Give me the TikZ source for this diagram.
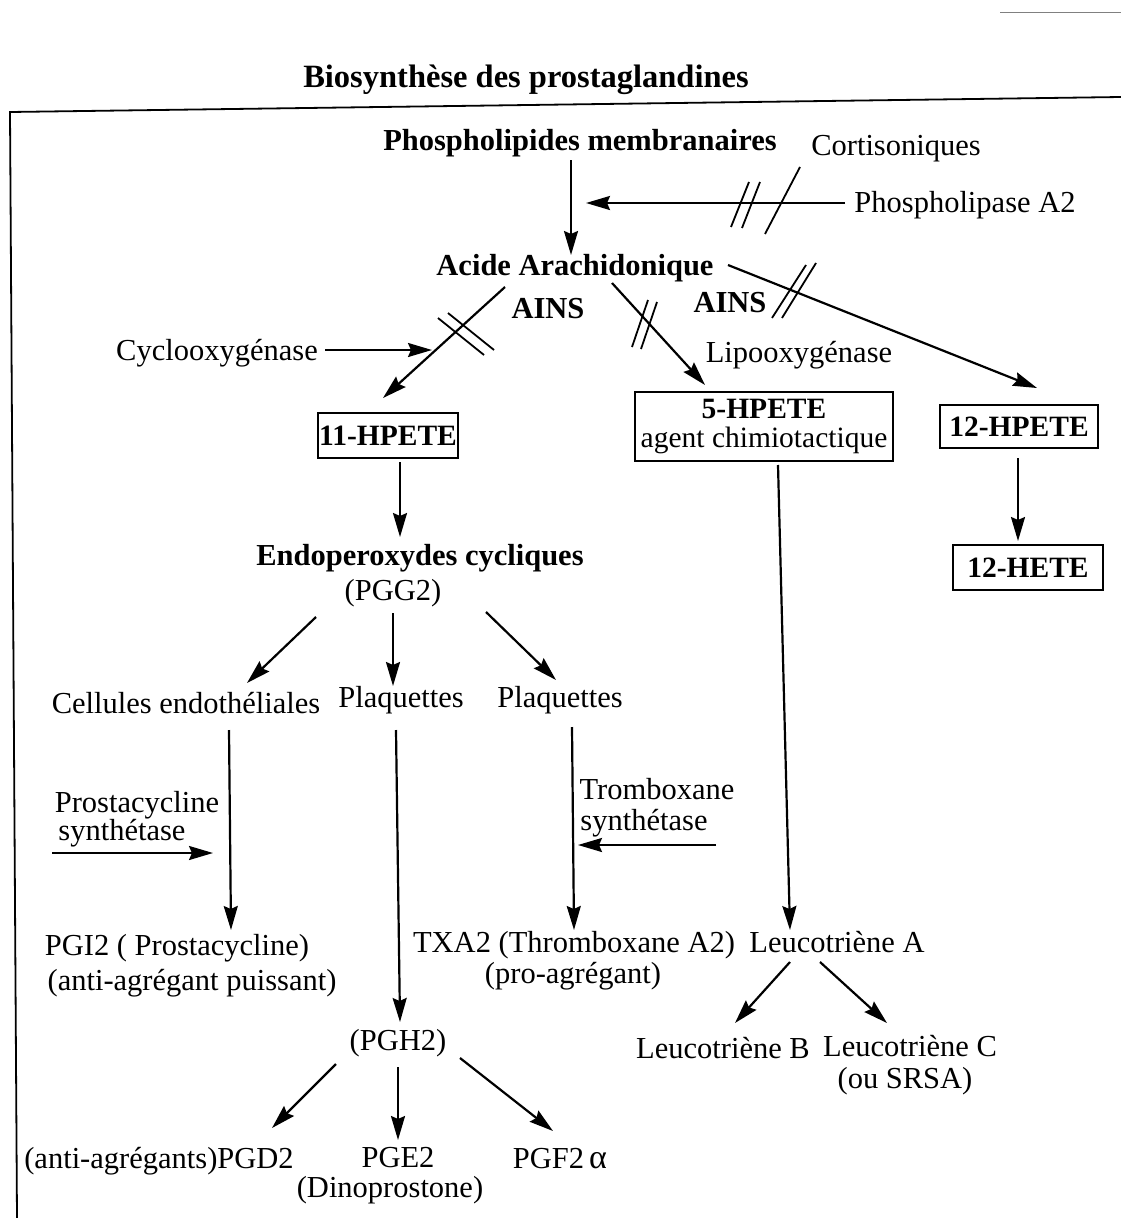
\documentclass[tikz,border=0pt]{standalone}
\usepackage{fontspec}
\setmainfont{Liberation Serif}
\usetikzlibrary{arrows.meta}
\begin{document}
\begin{tikzpicture}[x=1pt,y=-1pt,
  lbl/.style={anchor=base,inner sep=0pt,font=\fontsize{30.5}{33}\selectfont},
  blbl/.style={anchor=base,inner sep=0pt,font=\fontsize{30.5}{33}\selectfont\bfseries},
  box/.style={draw,line width=2pt,inner sep=0pt,align=center,font=\fontsize{29.5}{29.5}\selectfont},
  arr/.style={line width=2.2pt,-{Stealth[length=24pt,width=14pt,inset=3pt]}},
  bar/.style={line width=1.8pt}]
\useasboundingbox (0,0) rectangle (1121,1218);
\fill[white] (0,0) rectangle (1121,1218);
% frame
\draw[line width=1.8pt] (1121,97) -- (10,112) -- (17,1218);
\draw[line width=1pt,gray] (1000,12) -- (1121,12);
% title
\node[blbl,font=\fontsize{32.5}{35}\selectfont\bfseries] (title) at (526,87) {Biosynthèse des prostaglandines};
% top
\node[blbl] (phos) at (580,150) {Phospholipides membranaires};
\node[lbl] (cort) at (896,155) {Cortisoniques};
\node[lbl] (pla2) at (965,212) {Phospholipase A2};
\node[blbl] (acide) at (575,275) {Acide Arachidonique};
\node[blbl] (ains1) at (548,318) {AINS};
\node[blbl] (ains2) at (730,312) {AINS};
\node[lbl] (cox) at (217,360) {Cyclooxygénase};
\node[lbl] (lox) at (799,362) {Lipooxygénase};
% boxes
\node[box,minimum width=140pt,minimum height=45pt,font=\fontsize{29.5}{29.5}\selectfont\bfseries] (h11) at (388,435.5) {11-HPETE};
\node[box,minimum width=258pt,minimum height=69pt] (h5) at (764,426.5) {\textbf{5-HPETE}\\agent chimiotactique};
\node[box,minimum width=158pt,minimum height=43pt,font=\fontsize{29.5}{29.5}\selectfont\bfseries] (h12) at (1019,426.5) {12-HPETE};
\node[box,minimum width=150pt,minimum height=45pt,font=\fontsize{29.5}{29.5}\selectfont\bfseries] (hete) at (1028,567.5) {12-HETE};
% middle
\node[blbl] (endo) at (420,565) {Endoperoxydes cycliques};
\node[lbl] (pgg2) at (393,600) {(PGG2)};
\node[lbl] (cell) at (186,713) {Cellules endothéliales};
\node[lbl] (plaq1) at (401,707) {Plaquettes};
\node[lbl] (plaq2) at (560,707) {Plaquettes};
\node[lbl] (psyn1) at (137,812) {Prostacycline};
\node[lbl] (psyn2) at (122,840) {synthétase};
\node[lbl] (tsyn1) at (657,799) {Tromboxane};
\node[lbl] (tsyn2) at (644,830) {synthétase};
\node[lbl] (pgi2) at (177,955) {PGI2 ( Prostacycline)};
\node[lbl] (pgi2b) at (192,990) {(anti-agrégant puissant)};
\node[lbl] (txa2) at (574,952) {TXA2 (Thromboxane A2)};
\node[lbl] (txa2b) at (573,983) {(pro-agrégant)};
\node[lbl] (ltA) at (837,952) {Leucotriène A};
\node[lbl] (ltB) at (723,1058) {Leucotriène B};
\node[lbl] (ltC) at (910,1056) {Leucotriène C};
\node[lbl] (srsa) at (905,1088) {(ou SRSA)};
\node[lbl] (pgh2) at (398,1050) {(PGH2)};
\node[lbl] (pgd2) at (159,1168) {(anti-agrégants)PGD2};
\node[lbl] (pge2) at (398,1167) {PGE2};
\node[lbl] (dino) at (390,1197) {(Dinoprostone)};
\node[lbl] (pgf2) at (560,1168) {PGF2\,{\fontsize{34}{34}\selectfont α}};
% arrow end coordinates
\coordinate (a1s) at (571,160); \coordinate (a1e) at (571,255);
\coordinate (a2s) at (845,203); \coordinate (a2e) at (586,203);
\coordinate (a3s) at (505,287); \coordinate (a3e) at (383,398);
\coordinate (a4s) at (325,350); \coordinate (a4e) at (432,350);
\coordinate (a5s) at (612,283); \coordinate (a5e) at (705,385);
\coordinate (a6s) at (728,265); \coordinate (a6e) at (1037,388);
\coordinate (a7s) at (400,462); \coordinate (a7e) at (400,537);
\coordinate (a8s) at (1018,458); \coordinate (a8e) at (1018,541);
\coordinate (a9s) at (316,617); \coordinate (a9e) at (247,683);
\coordinate (a10s) at (393,613); \coordinate (a10e) at (393,686);
\coordinate (a11s) at (486,612); \coordinate (a11e) at (556,680);
\coordinate (a12s) at (229,730); \coordinate (a12e) at (231,930);
\coordinate (a13s) at (396,730); \coordinate (a13e) at (400,1022);
\coordinate (a14s) at (572,727); \coordinate (a14e) at (574,930);
\coordinate (a15s) at (52,853); \coordinate (a15e) at (213,853);
\coordinate (a16s) at (716,845); \coordinate (a16e) at (578,845);
\coordinate (a17s) at (778,465); \coordinate (a17e) at (790,930);
\coordinate (a18s) at (790,962); \coordinate (a18e) at (735,1023);
\coordinate (a19s) at (820,962); \coordinate (a19e) at (887,1023);
\coordinate (a20s) at (336,1064); \coordinate (a20e) at (272,1128);
\coordinate (a21s) at (398,1067); \coordinate (a21e) at (398,1140);
\coordinate (a22s) at (460,1058); \coordinate (a22e) at (553,1131);
\foreach \i in {1,...,22} {\draw[arr] (a\i s) -- (a\i e);}
% inhibition bars
\draw[bar] (731,227) -- (749,182);
\draw[bar] (742,228) -- (760,182);
\draw[bar] (765,234) -- (800,167);
\draw[bar] (438,318) -- (484,355);
\draw[bar] (448,313) -- (494,350);
\draw[bar] (632,347) -- (648,300);
\draw[bar] (641,349) -- (657,302);
\draw[bar] (772,318) -- (806,265);
\draw[bar] (782,318) -- (816,263);
\end{tikzpicture}
\end{document}
